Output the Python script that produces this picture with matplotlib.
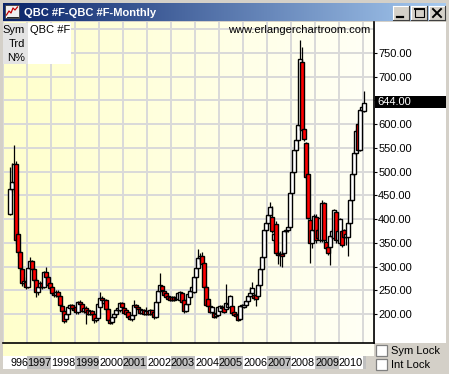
import numpy as np
import matplotlib
matplotlib.use('Agg')
import matplotlib.pyplot as plt
from matplotlib.patches import Rectangle
import matplotlib.transforms as mtransforms

plt.rcParams['font.family'] = ['Liberation Sans', 'DejaVu Sans']

title = 'QBC #F-QBC #F-Monthly'
watermark = 'www.erlangerchartroom.com'
first_month = 3  # Apr 1996, months counted from Jan 1996

# monthly OHLC, Apr 1996 .. Jan 2011
open_ = [411, 463, 478, 516, 369, 330, 295, 265, 267,
         257, 297, 312, 295, 272, 246, 258, 265, 257, 288, 278, 265,
         257, 244, 240, 247, 237, 217, 206, 190, 200, 213, 219, 213,
         215, 204, 225, 222, 207, 213, 208, 201, 206, 200, 187, 192,
         215, 233, 224, 230, 210, 187, 183, 194, 200, 208, 208, 224,
         212, 208, 205, 196, 189, 197, 219, 214, 210, 203, 208, 201,
         207, 201, 208, 205, 194, 226, 249, 259, 248, 244, 238, 236,
         236, 235, 231, 231, 229, 244, 229, 207, 221, 235, 249, 247,
         279, 298, 319, 322, 307, 258, 231, 216, 205, 203, 195, 198,
         207, 215, 215, 210, 215, 215, 217, 205, 200, 198, 189, 216,
         215, 219, 228, 237, 245, 240, 240, 237, 261, 295, 321, 377,
         391, 408, 404, 356, 390, 329, 325, 327, 329, 374, 378, 384,
         456, 500, 546, 567, 598, 732, 589, 560, 495, 398, 349, 377,
         404, 378, 357, 357, 433, 352, 342, 342, 364, 360, 416, 356,
         350, 374, 377, 362, 362, 392, 440, 495, 540, 600, 546, 630,
         628]
high = [510, 518, 556, 522, 375, 335, 298, 278, 272,
        300, 320, 314, 298, 275, 262, 270, 268, 290, 299, 282, 268,
        260, 248, 250, 250, 240, 222, 210, 205, 218, 222, 221, 216,
        217, 228, 230, 224, 216, 216, 209, 209, 208, 202, 196, 224,
        247, 238, 233, 232, 212, 192, 196, 202, 210, 214, 226, 226,
        214, 210, 207, 198, 200, 229, 221, 216, 212, 210, 210, 214,
        209, 210, 209, 207, 228, 252, 286, 262, 250, 246, 240, 238,
        238, 238, 236, 246, 249, 246, 233, 224, 245, 251, 262, 281,
        300, 336, 328, 330, 310, 262, 233, 224, 217, 206, 205, 217,
        219, 218, 217, 263, 224, 240, 220, 207, 204, 200, 219, 222,
        222, 230, 240, 256, 268, 245, 242, 263, 300, 323, 380, 395,
        410, 437, 428, 372, 395, 332, 332, 330, 376, 380, 386, 458,
        502, 548, 569, 600, 777, 763, 592, 563, 498, 402, 380, 410,
        410, 382, 405, 440, 436, 355, 345, 366, 380, 422, 420, 380,
        402, 378, 380, 372, 395, 442, 500, 545, 590, 606, 633, 640,
        669]
low = [409, 458, 474, 347, 322, 292, 260, 258, 252,
       255, 294, 290, 268, 236, 240, 252, 252, 255, 275, 258, 250,
       240, 236, 236, 233, 215, 203, 182, 184, 198, 208, 208, 204,
       200, 200, 218, 204, 203, 179, 198, 198, 196, 182, 183, 190,
       212, 222, 220, 205, 186, 178, 180, 190, 196, 204, 205, 212,
       202, 199, 192, 187, 186, 194, 210, 205, 201, 200, 199, 198,
       198, 198, 197, 190, 192, 224, 245, 248, 238, 233, 229, 228,
       228, 228, 229, 229, 227, 224, 203, 204, 219, 233, 246, 245,
       276, 296, 312, 303, 255, 216, 214, 203, 202, 191, 192, 196,
       205, 210, 203, 208, 212, 214, 199, 196, 194, 185, 187, 214,
       213, 217, 226, 235, 243, 230, 216, 233, 258, 292, 318, 375,
       389, 405, 370, 350, 325, 305, 302, 300, 327, 370, 372, 382,
       454, 498, 544, 565, 596, 585, 565, 485, 400, 307, 340, 372,
       350, 355, 352, 352, 350, 338, 325, 303, 360, 356, 350, 352,
       347, 342, 358, 345, 322, 390, 438, 490, 536, 543, 543, 625,
       626]
close = [463, 478, 516, 356, 330, 297, 265, 270, 257,
         297, 312, 295, 272, 246, 258, 265, 257, 288, 278, 261, 255,
         244, 240, 247, 237, 219, 206, 186, 200, 215, 219, 213, 208,
         205, 225, 222, 207, 213, 205, 201, 206, 200, 187, 192, 221,
         233, 230, 230, 210, 187, 182, 194, 200, 208, 212, 223, 215,
         203, 201, 193, 189, 197, 219, 214, 210, 203, 208, 201, 207,
         201, 208, 200, 193, 226, 249, 261, 250, 240, 235, 231, 230,
         230, 230, 234, 244, 247, 226, 207, 221, 243, 249, 258, 279,
         298, 319, 322, 305, 258, 219, 216, 205, 215, 193, 201, 215,
         217, 212, 205, 224, 222, 238, 202, 198, 196, 187, 217, 219,
         219, 228, 237, 245, 254, 233, 231, 261, 295, 321, 377, 391,
         408, 425, 374, 369, 329, 324, 327, 322, 374, 378, 384, 456,
         500, 546, 567, 598, 737, 588, 568, 488, 402, 349, 377, 407,
         355, 360, 403, 435, 355, 340, 329, 364, 376, 419, 356, 374,
         400, 345, 362, 368, 392, 440, 495, 540, 586, 546, 630, 636,
         644]

price_ticks = [200, 250, 300, 350, 400, 450, 500, 550, 600, 650, 700, 750]
grid_prices = price_ticks + [800]
years = ['996', '1997', '1998', '1999', '2000', '2001', '2002', '2003',
         '2004', '2005', '2006', '2007', '2008', '2009', '2010']
last_price = 644.00

W, H = 449, 374
fig = plt.figure(figsize=(W / 100, H / 100), dpi=100)
fig.patch.set_facecolor('#d4d0c8')

bg = fig.add_axes([0, 0, 1, 1])
bg.set_xlim(0, W)
bg.set_ylim(H, 0)
bg.axis('off')

# title bar
grad = np.linspace(0, 1, 256)
c0 = np.array([10, 36, 106]) / 255
c1 = np.array([166, 202, 240]) / 255
tb = (c0[None, :] * (1 - grad[:, None]) + c1[None, :] * grad[:, None])[None, :, :]
bg.imshow(tb, extent=(3, 446, 21, 3), aspect='auto', zorder=1)
bg.text(24, 12.5, title, color='white', fontsize=8, fontweight='bold',
        va='center', ha='left', zorder=3)
# icon
bg.add_patch(Rectangle((5, 5), 14, 13, fc='#f0f0f0', ec='#404040', lw=0.6, zorder=2))
bg.plot([6.5, 9, 11, 13, 15, 17.5], [15, 11, 13, 8, 10, 7], color='#c00000', lw=0.9, zorder=3)
bg.plot([6.5, 17.5], [16.5, 16.5], color='black', lw=0.6, zorder=3)
# window buttons
for x0 in [393, 411, 429]:
    bg.add_patch(Rectangle((x0, 6), 16, 14, fc='#d4d0c8', ec='none', zorder=2))
    bg.plot([x0, x0 + 16], [6, 6], color='white', lw=0.8, zorder=3)
    bg.plot([x0, x0], [6, 20], color='white', lw=0.8, zorder=3)
    bg.plot([x0, x0 + 16], [20, 20], color='#404040', lw=0.8, zorder=3)
    bg.plot([x0 + 16, x0 + 16], [6, 20], color='#404040', lw=0.8, zorder=3)
bg.plot([397, 403], [16.5, 16.5], color='black', lw=1.6, zorder=4)
bg.add_patch(Rectangle((414.5, 8.5), 9, 8.5, fc='none', ec='black', lw=0.8, zorder=4))
bg.plot([414.5, 423.5], [9.2, 9.2], color='black', lw=1.4, zorder=4)
bg.plot([433, 441], [9, 17], color='black', lw=1.4, zorder=4)
bg.plot([433, 441], [17, 9], color='black', lw=1.4, zorder=4)

# chart background gradient (pale yellow to near white)
yc0 = np.array([255, 255, 204]) / 255
yc1 = np.array([255, 255, 246]) / 255
yg = (yc0[None, :] * (1 - grad[:, None]) + yc1[None, :] * grad[:, None])[None, :, :]
bg.imshow(yg, extent=(3, 374, 356, 22), aspect='auto', zorder=1)
# right scale panel
bg.add_patch(Rectangle((375, 22), 71, 321, fc='white', ec='none', zorder=1))
# lock checkboxes
for yy, lab in [(345, 'Sym Lock'), (359, 'Int Lock')]:
    bg.add_patch(Rectangle((376, yy), 11, 11, fc='white', ec='#808080', lw=0.9, zorder=2))
    bg.text(391, yy + 5.8, lab, fontsize=8, va='center', ha='left', zorder=3)
bg.set_xlim(0, W)
bg.set_ylim(H, 0)

# price pane
ax = fig.add_axes([3 / W, 1 - 343 / H, 371 / W, 321 / H])
ax.set_facecolor('none')
ax.set_xlim(-0.5, 185)
ax.set_ylim(750 - 290 * 2.107, 750 + 31 * 2.107)

for p in grid_prices:
    ax.axhline(p, color='#d9d9d9', lw=1.4, zorder=1)
for k in range(16):
    ax.axvline(12 * k - 0.5, color='#d9d9d9', lw=1.4, zorder=1)

months = np.arange(first_month, first_month + len(close))
for i, m in enumerate(months):
    o, h, l, c = open_[i], high[i], low[i], close[i]
    z = 3 + i * 0.01
    ax.plot([m, m], [l, h], color='black', lw=0.9, zorder=z, solid_capstyle='butt')
    fc = 'white' if c >= o else '#ff0000'
    ax.add_patch(Rectangle((m - 0.95, min(o, c)), 1.9, max(abs(c - o), 2.0),
                           fc=fc, ec='black', lw=1.0, zorder=z))

ax.yaxis.tick_right()
ax.set_yticks(price_ticks)
ax.set_yticklabels([f'{v:.2f}' for v in price_ticks])
ax.tick_params(axis='y', length=2.5, width=0.8, pad=0.5, labelsize=8)
ax.set_xticks([])
for s in ['left', 'top']:
    ax.spines[s].set_visible(False)
ax.spines['right'].set_linewidth(1.2)
ax.spines['bottom'].set_linewidth(1.2)

ax.text(0.989, 0.992, watermark, transform=ax.transAxes, ha='right', va='top',
        fontsize=8, zorder=10)

# last price marker
blend = mtransforms.blended_transform_factory(ax.transAxes, ax.transData)
ax.add_patch(Rectangle((1.0027, last_price - 10.5), 0.1915, 25.5, transform=blend,
                       fc='black', ec='none', clip_on=False, zorder=10))
ax.text(1.008, last_price + 2, f'{last_price:.2f}', transform=blend, color='white',
        fontsize=8, va='center', ha='left', clip_on=False, zorder=11)

# year strip under the chart
xblend = mtransforms.blended_transform_factory(ax.transData, ax.transAxes)
y_top, y_bot = (343 - 356) / 321, (343 - 369) / 321
for k in range(len(years) + 1):
    x0 = 12 * k - 0.5
    x1 = min(x0 + 12, 181)
    col = '#c0c0c0' if k % 2 else 'white'
    ax.add_patch(Rectangle((x0, y_bot), x1 - x0, y_top - y_bot, transform=xblend,
                           fc=col, ec='none', clip_on=False, zorder=5))
for k, yr in enumerate(years):
    xc = 7.8 if k == 0 else 12 * k + 5.5
    ax.text(xc, (y_top + y_bot) / 2, yr, transform=xblend, ha='center', va='center',
            fontsize=7.8, clip_on=False, zorder=6)

# symbol info box, drawn above the price pane
top = fig.add_axes([0, 0, 1, 1])
top.set_xlim(0, W)
top.set_ylim(H, 0)
top.axis('off')
top.patch.set_alpha(0)
top.add_patch(Rectangle((3, 23), 25, 41, fc='#e4e4e4', ec='none'))
top.add_patch(Rectangle((28, 23), 43, 41, fc='white', ec='none'))
for yy, lab in [(30, 'Sym'), (44, 'Trd'), (58, 'N%')]:
    top.text(25, yy, lab, fontsize=8, ha='right', va='center')
top.text(30, 30, 'QBC #F', fontsize=8, ha='left', va='center')
bg.set_zorder(0)
ax.set_zorder(1)
top.set_zorder(2)

fig.savefig('out.png', dpi=100, facecolor=fig.get_facecolor())
